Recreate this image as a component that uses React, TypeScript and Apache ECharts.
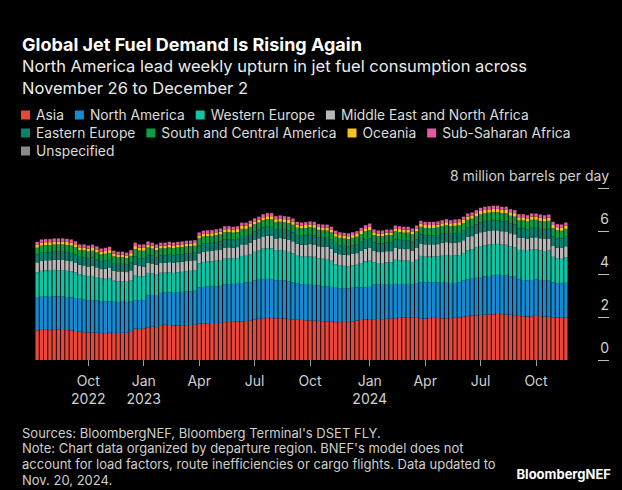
import React, { useEffect, useRef } from "react";
import * as echarts from "echarts";

// Weekly jet fuel demand by departure region, million barrels per day.
// One value per week, weeks starting Monday 2022-07-04 through 2024-11-18.
const asia = [
  1.38, 1.40, 1.40, 1.39, 1.40, 1.41, 1.40, 1.39, 1.38,
  1.35, 1.32, 1.29, 1.28, 1.28, 1.27, 1.26, 1.25,
  1.27, 1.26, 1.26, 1.27, 1.27, 1.30,
  1.46, 1.45, 1.47,
  1.52, 1.55, 1.53, 1.62, 1.65, 1.63,
  1.60, 1.61, 1.62, 1.62, 1.63, 1.64,
  1.70, 1.71, 1.71, 1.72, 1.72, 1.73,
  1.76, 1.77, 1.78, 1.78, 1.80, 1.81, 1.83,
  1.90, 1.92, 1.94, 1.95, 1.95,
  1.94, 1.94, 1.93, 1.90, 1.88, 1.87,
  1.86, 1.85, 1.84, 1.84, 1.82, 1.80, 1.79, 1.78,
  1.76, 1.76, 1.77, 1.76, 1.80, 1.83, 1.86, 1.89, 1.90,
  1.90, 1.91, 1.90, 1.92, 1.93, 1.94, 1.96, 1.97, 1.99, 1.98, 1.96,
  1.92, 1.93, 1.95, 1.96, 1.95, 1.93, 1.94, 1.95, 1.96, 1.98,
  2.02, 2.04, 2.06, 2.08, 2.10, 2.11, 2.12, 2.13, 2.14, 2.13, 2.12, 2.10, 2.08,
  2.05, 2.03, 2.02, 2.03, 2.05, 2.04, 2.02, 2.01,
  1.98, 1.97, 1.97, 1.98,
];

const northAmerica = [
  1.52, 1.54, 1.55, 1.55, 1.56, 1.55, 1.55, 1.54, 1.53,
  1.53, 1.53, 1.52, 1.50, 1.50, 1.49, 1.48, 1.47,
  1.46, 1.45, 1.44, 1.44, 1.43, 1.42,
  1.33, 1.33, 1.31,
  1.49, 1.47, 1.46, 1.50, 1.49, 1.51,
  1.53, 1.54, 1.55, 1.56, 1.57, 1.58,
  1.68, 1.69, 1.70, 1.70, 1.71, 1.72,
  1.75, 1.76, 1.76, 1.77, 1.78, 1.79, 1.80,
  1.80, 1.81, 1.82, 1.82, 1.81,
  1.77, 1.77, 1.76, 1.75, 1.73, 1.70,
  1.66, 1.65, 1.66, 1.65, 1.64, 1.63, 1.63, 1.62,
  1.60, 1.58, 1.57, 1.57, 1.56, 1.55, 1.52, 1.50, 1.50,
  1.63, 1.60, 1.60, 1.58, 1.57, 1.60, 1.57, 1.56, 1.55, 1.53, 1.62,
  1.70, 1.68, 1.67, 1.66, 1.66, 1.66, 1.65, 1.63, 1.62, 1.63,
  1.68, 1.71, 1.72, 1.74, 1.76, 1.78, 1.79, 1.81, 1.82, 1.82, 1.81, 1.80, 1.80,
  1.70, 1.69, 1.68, 1.69, 1.70, 1.68, 1.67, 1.68,
  1.62, 1.60, 1.59, 1.61,
];

const westernEurope = [
  1.18, 1.21, 1.22, 1.22, 1.23, 1.22, 1.23, 1.22, 1.21,
  1.19, 1.14, 1.14, 1.12, 1.13, 1.10, 1.05, 1.06,
  1.07, 0.98, 0.96, 0.95, 0.94, 0.98,
  1.16, 1.12, 1.10,
  1.04, 1.02, 0.98, 0.94, 0.93, 0.95,
  0.92, 0.93, 0.93, 0.95, 0.95, 0.96,
  1.12, 1.16, 1.17, 1.17, 1.19, 1.20,
  1.20, 1.20, 1.18, 1.19, 1.26, 1.25, 1.28,
  1.33, 1.37, 1.42, 1.43, 1.43,
  1.38, 1.40, 1.39, 1.38, 1.35, 1.28,
  1.29, 1.31, 1.32, 1.31, 1.27, 1.28, 1.28, 1.22,
  1.08, 1.05, 1.04, 1.03, 1.04, 1.05, 1.13, 1.20, 1.22,
  1.02, 1.00, 1.01, 1.04, 1.04, 1.12, 1.11, 1.09, 1.08, 1.05, 1.08,
  1.22, 1.20, 1.19, 1.19, 1.21, 1.26, 1.29, 1.27, 1.28, 1.27,
  1.28, 1.36, 1.37, 1.41, 1.44, 1.45, 1.46, 1.45, 1.44, 1.42, 1.43, 1.38, 1.37,
  1.37, 1.40, 1.38, 1.41, 1.40, 1.38, 1.38, 1.40,
  1.20, 1.16, 1.15, 1.19,
];

const middleEastNorthAfrica = [
  0.46, 0.47, 0.47, 0.48, 0.47, 0.48, 0.48, 0.48, 0.48,
  0.47, 0.44, 0.45, 0.45, 0.46, 0.45, 0.44, 0.46,
  0.48, 0.46, 0.46, 0.46, 0.45, 0.47,
  0.48, 0.47, 0.47,
  0.46, 0.45, 0.45, 0.45, 0.45, 0.46,
  0.47, 0.47, 0.47, 0.47, 0.47, 0.46,
  0.46, 0.48, 0.48, 0.48, 0.49, 0.49,
  0.52, 0.51, 0.50, 0.51, 0.54, 0.53, 0.55,
  0.55, 0.56, 0.57, 0.58, 0.58,
  0.56, 0.56, 0.56, 0.57, 0.56, 0.55,
  0.55, 0.56, 0.57, 0.57, 0.56, 0.56, 0.56, 0.55,
  0.54, 0.53, 0.52, 0.52, 0.53, 0.54, 0.56, 0.58, 0.59,
  0.52, 0.51, 0.51, 0.52, 0.52, 0.55, 0.54, 0.54, 0.54, 0.53, 0.55,
  0.58, 0.57, 0.57, 0.57, 0.57, 0.59, 0.60, 0.59, 0.60, 0.60,
  0.59, 0.61, 0.61, 0.63, 0.64, 0.64, 0.64, 0.64, 0.63, 0.62, 0.62, 0.61, 0.60,
  0.56, 0.56, 0.55, 0.57, 0.56, 0.56, 0.56, 0.56,
  0.52, 0.50, 0.50, 0.51,
];

const easternEurope = [
  0.36, 0.37, 0.37, 0.37, 0.38, 0.38, 0.38, 0.38, 0.38,
  0.38, 0.37, 0.38, 0.38, 0.39, 0.38, 0.37, 0.38,
  0.38, 0.36, 0.35, 0.35, 0.35, 0.36,
  0.38, 0.37, 0.38,
  0.38, 0.36, 0.36, 0.35, 0.35, 0.35,
  0.35, 0.35, 0.35, 0.35, 0.35, 0.35,
  0.36, 0.37, 0.37, 0.38, 0.37, 0.38,
  0.38, 0.38, 0.37, 0.37, 0.39, 0.39, 0.40,
  0.40, 0.40, 0.41, 0.42, 0.42,
  0.41, 0.42, 0.42, 0.42, 0.42, 0.41,
  0.42, 0.42, 0.43, 0.43, 0.42, 0.42, 0.42, 0.42,
  0.42, 0.42, 0.41, 0.41, 0.41, 0.42, 0.43, 0.44, 0.45,
  0.40, 0.40, 0.40, 0.40, 0.40, 0.41, 0.41, 0.41, 0.41, 0.41, 0.41,
  0.42, 0.42, 0.42, 0.42, 0.42, 0.43, 0.43, 0.43, 0.43, 0.43,
  0.44, 0.44, 0.44, 0.45, 0.45, 0.46, 0.46, 0.46, 0.46, 0.45, 0.46, 0.45, 0.45,
  0.44, 0.44, 0.44, 0.45, 0.44, 0.44, 0.44, 0.45,
  0.44, 0.44, 0.44, 0.44,
];

const southCentralAmerica = [
  0.32, 0.33, 0.33, 0.33, 0.33, 0.33, 0.33, 0.34, 0.34,
  0.33, 0.31, 0.32, 0.32, 0.32, 0.32, 0.31, 0.32,
  0.32, 0.31, 0.31, 0.31, 0.30, 0.31,
  0.35, 0.35, 0.35,
  0.34, 0.33, 0.33, 0.33, 0.32, 0.33,
  0.33, 0.33, 0.33, 0.33, 0.32, 0.32,
  0.34, 0.33, 0.33, 0.32, 0.33, 0.32,
  0.33, 0.33, 0.33, 0.33, 0.33, 0.33, 0.33,
  0.33, 0.33, 0.34, 0.34, 0.35,
  0.34, 0.34, 0.34, 0.35, 0.35, 0.34,
  0.34, 0.35, 0.35, 0.35, 0.34, 0.34, 0.34, 0.34,
  0.34, 0.34, 0.34, 0.34, 0.34, 0.34, 0.36, 0.37, 0.38,
  0.34, 0.34, 0.34, 0.34, 0.34, 0.36, 0.36, 0.35, 0.35, 0.34, 0.36,
  0.35, 0.34, 0.34, 0.34, 0.35, 0.35, 0.35, 0.35, 0.35, 0.35,
  0.36, 0.36, 0.37, 0.37, 0.38, 0.38, 0.38, 0.38, 0.38, 0.38, 0.38, 0.37, 0.37,
  0.37, 0.37, 0.37, 0.37, 0.37, 0.37, 0.37, 0.37,
  0.37, 0.36, 0.36, 0.37,
];

const oceania = [
  0.13, 0.14, 0.14, 0.14, 0.14, 0.14, 0.14, 0.14, 0.14,
  0.13, 0.13, 0.13, 0.13, 0.13, 0.13, 0.13, 0.13,
  0.13, 0.12, 0.12, 0.12, 0.12, 0.13,
  0.14, 0.14, 0.14,
  0.14, 0.14, 0.13, 0.13, 0.13, 0.13,
  0.13, 0.13, 0.13, 0.13, 0.13, 0.13,
  0.13, 0.13, 0.13, 0.13, 0.13, 0.13,
  0.14, 0.14, 0.14, 0.14, 0.14, 0.14, 0.14,
  0.13, 0.13, 0.14, 0.15, 0.15,
  0.15, 0.15, 0.15, 0.15, 0.15, 0.14,
  0.14, 0.14, 0.14, 0.14, 0.14, 0.14, 0.14, 0.13,
  0.14, 0.13, 0.13, 0.13, 0.13, 0.13, 0.14, 0.15, 0.15,
  0.13, 0.13, 0.13, 0.13, 0.13, 0.14, 0.14, 0.14, 0.14, 0.14, 0.14,
  0.14, 0.14, 0.14, 0.14, 0.14, 0.14, 0.15, 0.14, 0.15, 0.15,
  0.15, 0.15, 0.15, 0.15, 0.16, 0.16, 0.16, 0.16, 0.16, 0.16, 0.16, 0.16, 0.16,
  0.15, 0.15, 0.15, 0.15, 0.15, 0.15, 0.15, 0.15,
  0.15, 0.15, 0.15, 0.15,
];

const subSaharanAfrica = [
  0.14, 0.14, 0.14, 0.14, 0.14, 0.14, 0.14, 0.14, 0.14,
  0.14, 0.13, 0.14, 0.14, 0.15, 0.14, 0.14, 0.14,
  0.15, 0.14, 0.13, 0.13, 0.13, 0.14,
  0.15, 0.14, 0.15,
  0.14, 0.13, 0.13, 0.13, 0.13, 0.13,
  0.13, 0.13, 0.13, 0.13, 0.13, 0.13,
  0.14, 0.14, 0.14, 0.14, 0.14, 0.14,
  0.14, 0.13, 0.13, 0.13, 0.14, 0.14, 0.14,
  0.14, 0.14, 0.14, 0.14, 0.14,
  0.14, 0.14, 0.14, 0.14, 0.14, 0.13,
  0.13, 0.13, 0.13, 0.13, 0.13, 0.13, 0.13, 0.13,
  0.13, 0.13, 0.13, 0.13, 0.13, 0.13, 0.14, 0.14, 0.15,
  0.13, 0.13, 0.13, 0.13, 0.13, 0.13, 0.13, 0.13, 0.13, 0.13, 0.13,
  0.14, 0.14, 0.14, 0.14, 0.14, 0.14, 0.14, 0.14, 0.14, 0.14,
  0.14, 0.14, 0.14, 0.14, 0.14, 0.14, 0.14, 0.14, 0.14, 0.14, 0.14, 0.14, 0.14,
  0.14, 0.14, 0.14, 0.14, 0.14, 0.14, 0.14, 0.14,
  0.14, 0.14, 0.14, 0.14,
];

const unspecified = [
  0.01, 0.01, 0.01, 0.01, 0.01, 0.01, 0.01, 0.01, 0.01,
  0.01, 0.01, 0.01, 0.01, 0.01, 0.01, 0.01, 0.01,
  0.01, 0.01, 0.01, 0.01, 0.01, 0.01,
  0.01, 0.01, 0.01,
  0.01, 0.01, 0.01, 0.01, 0.01, 0.01,
  0.01, 0.01, 0.01, 0.01, 0.01, 0.01,
  0.01, 0.01, 0.01, 0.01, 0.01, 0.01,
  0.01, 0.01, 0.01, 0.01, 0.01, 0.01, 0.01,
  0.01, 0.01, 0.01, 0.01, 0.01,
  0.01, 0.01, 0.01, 0.01, 0.01, 0.01,
  0.01, 0.01, 0.01, 0.01, 0.01, 0.01, 0.01, 0.01,
  0.01, 0.01, 0.01, 0.01, 0.01, 0.01, 0.01, 0.01, 0.01,
  0.01, 0.01, 0.01, 0.01, 0.01, 0.01, 0.01, 0.01, 0.01, 0.01, 0.01,
  0.01, 0.01, 0.01, 0.01, 0.01, 0.01, 0.01, 0.01, 0.01, 0.01,
  0.01, 0.01, 0.01, 0.01, 0.01, 0.01, 0.01, 0.01, 0.01, 0.01, 0.01, 0.01, 0.01,
  0.01, 0.01, 0.01, 0.01, 0.01, 0.01, 0.01, 0.01,
  0.01, 0.01, 0.01, 0.01,
];

// Week start dates (Mondays), one per bar.
const firstWeek = Date.UTC(2022, 6, 4);
const weekStarts: string[] = asia.map((_, i) =>
  new Date(firstWeek + i * 7 * 86400000).toISOString().slice(0, 10)
);

// Quarter labels, placed on the week containing the first day of the quarter.
const quarterLabels: [string, string][] = [
  ["2022-09-26", "Oct\n2022"],
  ["2022-12-26", "Jan\n2023"],
  ["2023-03-27", "Apr"],
  ["2023-06-26", "Jul"],
  ["2023-09-25", "Oct"],
  ["2024-01-01", "Jan\n2024"],
  ["2024-04-01", "Apr"],
  ["2024-07-01", "Jul"],
  ["2024-09-30", "Oct"],
];

const yTicks = [0, 2, 4, 6, 8];
const yUnit = "million barrels per day";

const regions: { name: string; color: string; values: number[] }[] = [
  { name: "Asia", color: "#e8473a", values: asia },
  { name: "North America", color: "#168bd2", values: northAmerica },
  { name: "Western Europe", color: "#0fc4a4", values: westernEurope },
  { name: "Middle East and North Africa", color: "#b8b8b8", values: middleEastNorthAfrica },
  { name: "Eastern Europe", color: "#07826f", values: easternEurope },
  { name: "South and Central America", color: "#119c46", values: southCentralAmerica },
  { name: "Oceania", color: "#f6c21c", values: oceania },
  { name: "Sub-Saharan Africa", color: "#e25a9f", values: subSaharanAfrica },
  { name: "Unspecified", color: "#8a8a8a", values: unspecified },
];

const legendRows = [
  ["Asia", "North America", "Western Europe", "Middle East and North Africa"],
  ["Eastern Europe", "South and Central America", "Oceania", "Sub-Saharan Africa"],
  ["Unspecified"],
];

const FONT = 'Inter, "Liberation Sans", Arial, sans-serif';

export default function App() {
  const ref = useRef<HTMLDivElement>(null);

  useEffect(() => {
    if (!ref.current) return;
    const chart = echarts.init(ref.current, null, { renderer: "svg" });
    const labelMap = new Map(quarterLabels);
    const isQuarter = (_i: number, v: string) => labelMap.has(v);

    chart.setOption({
      animation: false,
      backgroundColor: "#000",
      textStyle: { fontFamily: FONT },
      title: [
        {
          text: "Global Jet Fuel Demand Is Rising Again",
          left: 22,
          top: 34,
          padding: 0,
          textStyle: { color: "#fff", fontSize: 18, fontWeight: "bold", lineHeight: 20, fontFamily: FONT },
        },
        {
          text: "North America lead weekly upturn in jet fuel consumption across\nNovember 26 to December 2",
          left: 22,
          top: 55,
          padding: 0,
          textStyle: { color: "#ececec", fontSize: 16.5, fontWeight: "normal", lineHeight: 22, fontFamily: FONT },
        },
        {
          text:
            "Sources: BloombergNEF, Bloomberg Terminal's DSET FLY.\n" +
            "Note: Chart data organized by departure region. BNEF's model does not\n" +
            "account for load factors, route inefficiencies or cargo flights. Data updated to\n" +
            "Nov. 20, 2024.",
          left: 22,
          top: 425,
          padding: 0,
          textStyle: { color: "#cfcfcf", fontSize: 13, fontWeight: "normal", lineHeight: 15.6, fontFamily: FONT },
        },
        {
          text: "BloombergNEF",
          right: 11,
          top: 466,
          padding: 0,
          textStyle: { color: "#fff", fontSize: 13, fontWeight: "bold", lineHeight: 16, fontFamily: FONT },
        },
      ],
      legend: legendRows.map((row, r) => ({
        data: row,
        left: 21,
        top: 108 + r * 18,
        orient: "horizontal",
        icon: "rect",
        itemWidth: 9,
        itemHeight: 9,
        itemGap: 11,
        selectedMode: false,
        padding: 0,
        textStyle: { color: "#dcdcdc", fontSize: 13.8, fontFamily: FONT, padding: [0, 0, 0, 1] },
      })),
      grid: { left: 35, right: 54, top: 188, bottom: 130 },
      xAxis: {
        type: "category",
        data: weekStarts,
        boundaryGap: true,
        axisLine: { show: false },
        axisTick: {
          show: true,
          alignWithLabel: true,
          interval: isQuarter,
          length: 6,
          lineStyle: { color: "#9a9a9a", width: 1 },
        },
        axisLabel: {
          interval: isQuarter,
          formatter: (v: string) => labelMap.get(v) ?? "",
          color: "#d0d0d0",
          fontSize: 14,
          lineHeight: 18,
          margin: 11,
          fontFamily: FONT,
        },
        splitLine: { show: false },
      },
      yAxis: {
        type: "value",
        position: "right",
        offset: 30,
        min: yTicks[0],
        max: yTicks[yTicks.length - 1],
        interval: 2,
        axisLine: { show: false },
        axisTick: { show: true, length: 11, lineStyle: { color: "#bdbdbd", width: 1 } },
        splitLine: { show: false },
        axisLabel: {
          showMinLabel: true,
          showMaxLabel: true,
          align: "right",
          verticalAlign: "bottom",
          margin: 11,
          padding: [0, 0, 6, 0],
          color: "#d0d0d0",
          fontSize: 14,
          fontFamily: FONT,
          formatter: (v: number) => (v === yTicks[yTicks.length - 1] ? `${v} ${yUnit}` : String(v)),
        },
      },
      series: regions.map((r) => ({
        name: r.name,
        type: "bar",
        stack: "demand",
        data: r.values,
        barCategoryGap: "22%",
        itemStyle: { color: r.color },
        emphasis: { disabled: true },
      })),
    });

    return () => chart.dispose();
  }, []);

  return (
    <div
      ref={ref}
      style={{ position: "fixed", left: 0, top: 0, width: 622, height: 490, background: "#000" }}
    />
  );
}
